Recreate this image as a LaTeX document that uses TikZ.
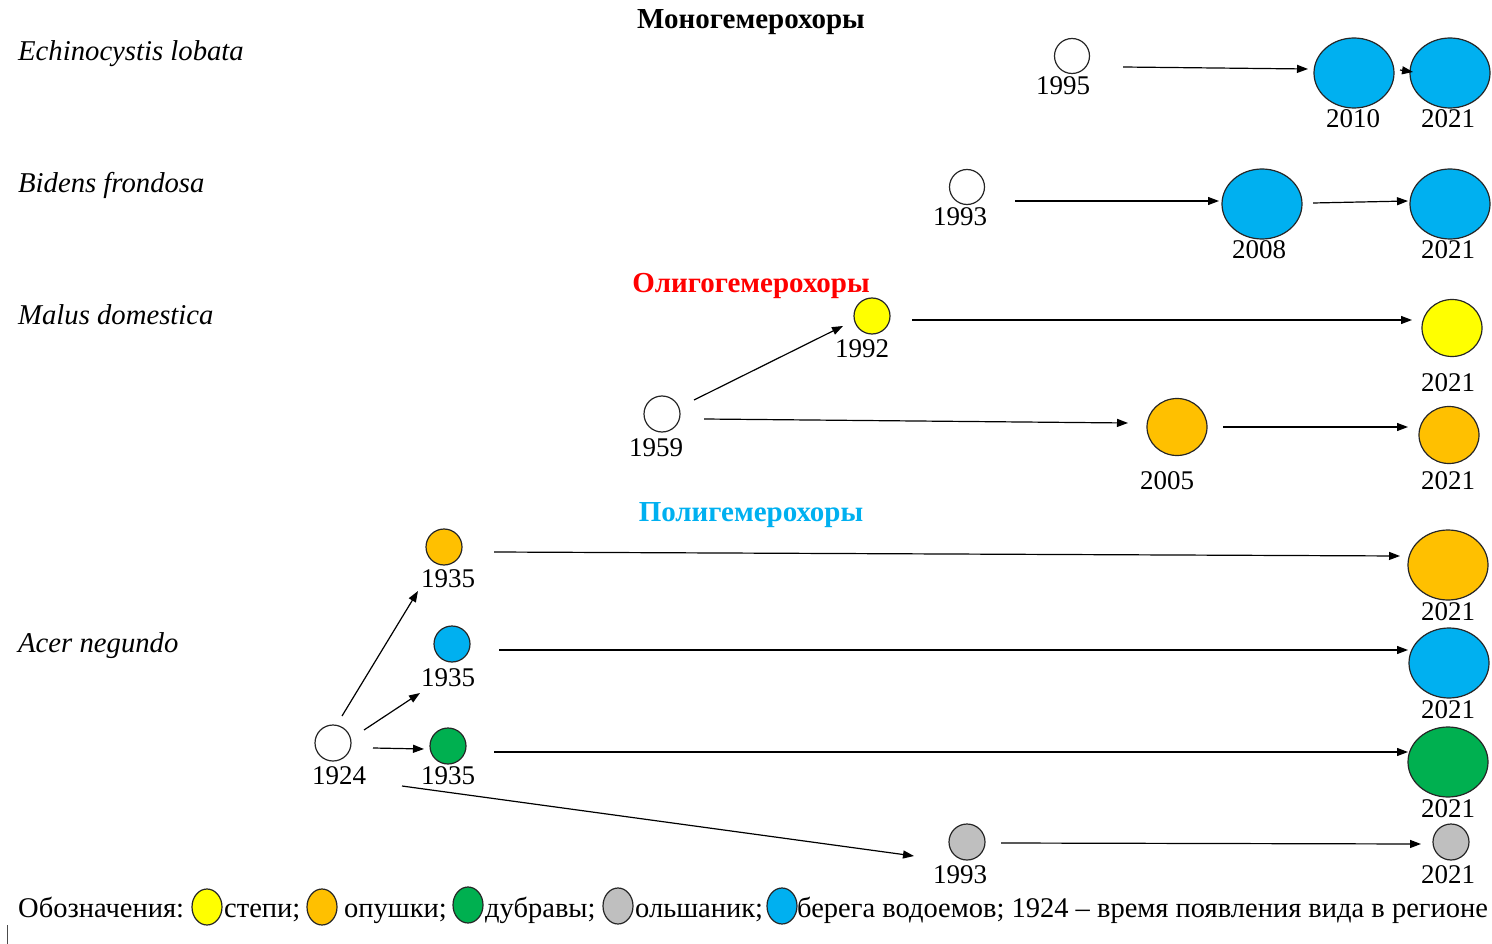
\documentclass[tikz,border=0pt]{standalone}
\usepackage{fontspec}
\setmainfont{Liberation Serif}
\usetikzlibrary{shapes.geometric,arrows.meta}
\definecolor{cblue}{HTML}{00B0F0}
\definecolor{cyellow}{HTML}{FFFF00}
\definecolor{corange}{HTML}{FFC000}
\definecolor{cgreen}{HTML}{00B050}
\definecolor{cgray}{HTML}{BFBFBF}
\definecolor{cred}{HTML}{FF0000}
\definecolor{ctitleblue}{HTML}{00B0F0}
\tikzset{
  circ/.style={ellipse,draw=black!85,line width=1.2pt,inner sep=0pt,minimum width=#1,minimum height=#1},
  big/.style={ellipse,draw=black!85,line width=1.2pt,inner sep=0pt,minimum width=80pt,minimum height=70pt},
  mid/.style={ellipse,draw=black!85,line width=1.2pt,inner sep=0pt,minimum width=60pt,minimum height=57pt},
  leg/.style={ellipse,draw=black!85,line width=1.2pt,inner sep=0pt,minimum width=30pt,minimum height=36pt},
  yr/.style={inner sep=0pt,anchor=base,font=\fontsize{27}{30}\selectfont},
  sp/.style={inner sep=0pt,anchor=base west,font=\fontsize{28.7}{32}\selectfont\itshape},
  ttl/.style={inner sep=0pt,anchor=base,font=\fontsize{29}{32}\selectfont\bfseries},
  lt/.style={inner sep=0pt,anchor=base west,font=\fontsize{28.5}{32}\selectfont},
  arr/.style={line width=1.2pt,-{Triangle[length=11pt,width=8pt]}}
}
\begin{document}
\begin{tikzpicture}[x=1pt,y=-1pt]
\useasboundingbox (0,0) rectangle (1492,944);
% titles
\node[ttl] (t1) at (751,29) {Моногемерохоры};
\node[ttl,text=cred] (t2) at (751,292) {Олигогемерохоры};
\node[ttl,text=ctitleblue] (t3) at (751,521) {Полигемерохоры};
% species
\node[sp] (s1) at (18,61) {Echinocystis lobata};
\node[sp] (s2) at (18,193) {Bidens frondosa};
\node[sp] (s3) at (18,324) {Malus domestica};
\node[sp] (s4) at (18,652) {Acer negundo};
% row 1
\node[circ=35pt,fill=white] (e1) at (1072,56) {};
\node[big,fill=cblue] (e2) at (1354,73) {};
\node[big,fill=cblue] (e3) at (1450,73) {};
\node[yr] (le1) at (1063,95) {1995};
\node[yr] (le2) at (1353,128) {2010};
\node[yr] (le3) at (1448,128) {2021};
\draw[arr] ([shift={(51,11)}]e1.center) -- ([shift={(-46,-4)}]e2.center);
\draw[arr] ([shift={(46,-3)}]e2.center) -- ([shift={(-37,-1)}]e3.center);
% row 2
\node[circ=35pt,fill=white] (b1) at (967,187) {};
\node[big,fill=cblue] (b2) at (1262,204) {};
\node[big,fill=cblue] (b3) at (1450,204) {};
\node[yr] (lb1) at (960,226) {1993};
\node[yr] (lb2) at (1259,259) {2008};
\node[yr] (lb3) at (1448,259) {2021};
\draw[arr] ([shift={(48,14)}]b1.center) -- ([shift={(-43,-3)}]b2.center);
\draw[arr] ([shift={(51,-1)}]b2.center) -- ([shift={(-42,-3)}]b3.center);
% row 3
\node[circ=36pt,fill=white] (m1) at (662,414) {};
\node[circ=36pt,fill=cyellow] (m2) at (872,316) {};
\node[mid,fill=cyellow] (m3) at (1452,328) {};
\node[mid,fill=corange] (m4) at (1177,427) {};
\node[mid,fill=corange] (m5) at (1449,435) {};
\node[yr] (lm1) at (656,456) {1959};
\node[yr] (lm2) at (862,357) {1992};
\node[yr] (lm3) at (1448,391) {2021};
\node[yr] (lm4) at (1167,489) {2005};
\node[yr] (lm5) at (1448,489) {2021};
\draw[arr] ([shift={(32,-14)}]m1.center) -- ([shift={(-29,10)}]m2.center);
\draw[arr] ([shift={(40,4)}]m2.center) -- ([shift={(-40,-8)}]m3.center);
\draw[arr] ([shift={(42,5)}]m1.center) -- ([shift={(-49,-4)}]m4.center);
\draw[arr] ([shift={(46,0)}]m4.center) -- ([shift={(-41,-8)}]m5.center);
% Acer
\node[circ=36pt,fill=white] (a1) at (333,743) {};
\node[circ=36pt,fill=corange] (a2) at (444,547) {};
\node[circ=36pt,fill=cblue] (a3) at (452,644) {};
\node[circ=36pt,fill=cgreen] (a4) at (448,746) {};
\node[big,fill=corange] (a5) at (1448,565) {};
\node[big,fill=cblue] (a6) at (1449,663) {};
\node[big,fill=cgreen] (a7) at (1448,762) {};
\node[circ=36pt,fill=cgray] (a8) at (967,842) {};
\node[circ=36pt,fill=cgray] (a9) at (1451,842) {};
\node[yr] (la1) at (339,784) {1924};
\node[yr] (la2) at (448,587) {1935};
\node[yr] (la3) at (448,686) {1935};
\node[yr] (la4) at (448,784) {1935};
\node[yr] (la5) at (1448,620) {2021};
\node[yr] (la6) at (1448,718) {2021};
\node[yr] (la7) at (1448,817) {2021};
\node[yr] (la8) at (960,883) {1993};
\node[yr] (la9) at (1448,883) {2021};
\draw[arr] ([shift={(9,-27)}]a1.center) -- ([shift={(-26,44)}]a2.center);
\draw[arr] ([shift={(31,-13)}]a1.center) -- ([shift={(-32,49)}]a3.center);
\draw[arr] ([shift={(40,5)}]a1.center) -- ([shift={(-24,3)}]a4.center);
\draw[arr] ([shift={(69,43)}]a1.center) -- ([shift={(-53,14)}]a8.center);
\draw[arr] ([shift={(50,5)}]a2.center) -- ([shift={(-48,-9)}]a5.center);
\draw[arr] ([shift={(47,6)}]a3.center) -- ([shift={(-41,-13)}]a6.center);
\draw[arr] ([shift={(46,6)}]a4.center) -- ([shift={(-40,-10)}]a7.center);
\draw[arr] ([shift={(34,1)}]a8.center) -- ([shift={(-30,2)}]a9.center);
% legend
\node[lt] (g0) at (18,917) {Обозначения:};
\node[leg,fill=cyellow] (g1) at (207,907) {};
\node[lt] (g1t) at (224,917) {степи;};
\node[leg,fill=corange] (g2) at (322,907) {};
\node[lt] (g2t) at (344,917) {опушки;};
\node[leg,fill=cgreen] (g3) at (468,905) {};
\node[lt] (g3t) at (485,917) {дубравы;};
\node[leg,fill=cgray] (g4) at (618,906) {};
\node[lt] (g4t) at (635,917) {ольшаник;};
\node[leg,fill=cblue] (g5) at (782,906) {};
\node[lt] (g5t) at (797,917) {берега водоемов; 1924 – время появления вида в регионе};
\coordinate (cur1) at (7,925);
\coordinate (cur2) at (7,944);
\draw[line width=1pt,black!70] (cur1) -- (cur2);
\end{tikzpicture}
\end{document}
